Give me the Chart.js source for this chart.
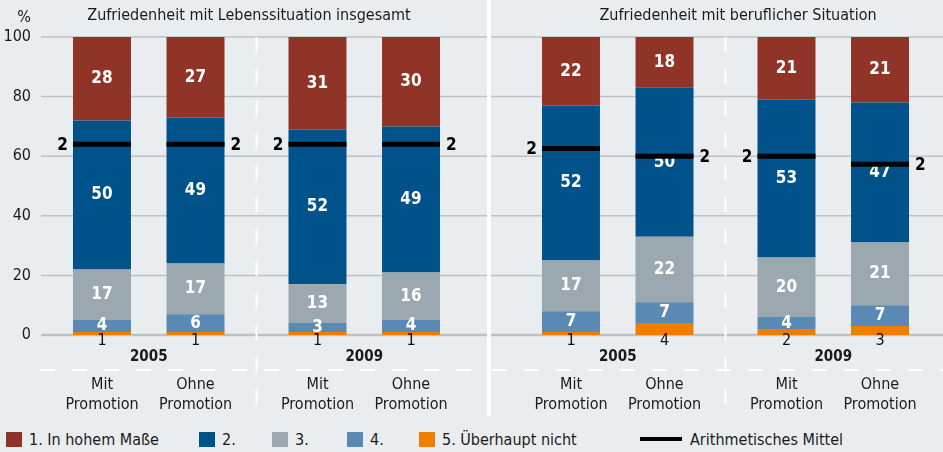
<!DOCTYPE html>
<html>
<head>
<meta charset="utf-8">
<script src="https://cdn.jsdelivr.net/npm/chart.js@4.4.1/dist/chart.umd.min.js"></script>
<style>
  body { margin: 0; background: #eaedf0; }
  #wrap { position: relative; width: 943px; height: 452px; background: #eaedf0; overflow: hidden;
          font-family: 'DejaVu Sans Condensed', sans-serif; color: #1a1a1a; }
  #c1 { position: absolute; left: 0; top: 0; }
  #c2 { position: absolute; left: 489px; top: 0; }
  #sep { position: absolute; left: 487px; top: 0; width: 4px; height: 416px; background: #fff; }
  .lg { position: absolute; top: 431px; height: 18px; line-height: 18px; font-size: 16px; white-space: nowrap; }
  .lg i { display: inline-block; width: 16px; height: 15px; vertical-align: -2px; margin-right: 7px; }
  .lg b { display: inline-block; width: 42px; height: 4px; background: #000; vertical-align: 4px; margin-right: 8px; }
</style>
</head>
<body>
<div id="wrap">
  <canvas id="c1" width="489" height="425"></canvas>
  <canvas id="c2" width="454" height="425"></canvas>
  <div id="sep"></div>
  <div id="legend"></div>
</div>
<script>
// Kategorien und Texte
const years = ['2005', '2009'];
const groups = [['Mit', 'Promotion'], ['Ohne', 'Promotion']];
const panelTitles = ['Zufriedenheit mit Lebenssituation insgesamt', 'Zufriedenheit mit beruflicher Situation'];
const levelNames = ['1. In hohem Maße', '2.', '3.', '4.', '5. Überhaupt nicht'];
const meanName = 'Arithmetisches Mittel';
const yTicks = [0, 20, 40, 60, 80, 100];

// Balken-Reihenfolge: Leben 2005 Mit, 2005 Ohne, 2009 Mit, 2009 Ohne, Beruf 2005 Mit, 2005 Ohne, 2009 Mit, 2009 Ohne
// Segmenthöhen (aus dem Bild gelesen)
const level1 = [28, 27, 31, 30, 23, 17, 21, 22];
const level2 = [50, 49, 52, 49, 52, 50, 53, 47];
const level3 = [17, 17, 13, 16, 17, 22, 20, 21];
const level4 = [4, 6, 3, 4, 7, 7, 4, 7];
const level5 = [1, 1, 1, 1, 1, 4, 2, 3];
// gedruckte Werte
const label1 = [28, 27, 31, 30, 22, 18, 21, 21];
const label2 = [50, 49, 52, 49, 52, 50, 53, 47];
const label3 = [17, 17, 13, 16, 17, 22, 20, 21];
const label4 = [4, 6, 3, 4, 7, 7, 4, 7];
const label5 = [1, 1, 1, 1, 1, 4, 2, 3];
// Arithmetisches Mittel: Lage auf der %-Achse und Beschriftung
const meanPos = [64, 64, 64, 64, 62.6, 60, 60, 57.3];
const meanLabel = ['2', '2', '2', '2', '2', '2', '2', '2'];

const colors = ['#8f3426', '#00538a', '#9ba8b0', '#5a8ab4', '#ef7d00'];
const FONT = "'DejaVu Sans Condensed', sans-serif";

const heights = [level1, level2, level3, level4, level5];
const printed = [label1, label2, label3, label4, label5];

// Legende
const legend = document.getElementById('legend');
const lgLeft = [6, 199, 272, 347, 419];
levelNames.forEach((n, i) => {
  const d = document.createElement('div');
  d.className = 'lg';
  d.style.left = lgLeft[i] + 'px';
  d.innerHTML = '<i style="background:' + colors[i] + '"></i>' + n;
  legend.appendChild(d);
});
const m = document.createElement('div');
m.className = 'lg';
m.style.left = '640px';
m.innerHTML = '<b></b>' + meanName;
legend.appendChild(m);

function barIndex(p, c, s) { return p * 4 + c * 2 + s; }

function makeDatasets(p) {
  const ds = [];
  for (let s = 0; s < 2; s++) {
    for (let L = 4; L >= 0; L--) { // von unten (5.) nach oben (1.)
      ds.push({
        label: levelNames[L],
        level: L,
        grp: s,
        stack: 'g' + s,
        data: years.map((y, c) => heights[L][barIndex(p, c, s)]),
        printed: years.map((y, c) => printed[L][barIndex(p, c, s)]),
        backgroundColor: colors[L],
        borderWidth: 0
      });
    }
  }
  return ds;
}

const panelPlugin = {
  id: 'panel',
  beforeDatasetsDraw(chart, args, opts) {
    const ctx = chart.ctx, ys = chart.scales.y, xs = chart.scales.x, a = chart.chartArea;
    ctx.save();
    // Gitterlinien
    yTicks.forEach(v => {
      const y = ys.getPixelForValue(v);
      ctx.strokeStyle = '#bdc2c6';
      ctx.lineWidth = v === 0 ? 2.5 : 1.5;
      ctx.beginPath();
      ctx.moveTo(opts.gridFrom === 'area' ? a.left : 0, y);
      ctx.lineTo(chart.width, y);
      ctx.stroke();
    });
    // gestrichelte Trennlinien
    ctx.strokeStyle = '#ffffff';
    ctx.lineWidth = 2;
    ctx.setLineDash([15, 17]);
    const xm = (xs.getPixelForValue(0) + xs.getPixelForValue(1)) / 2;
    ctx.beginPath();
    ctx.moveTo(xm, a.top);
    ctx.lineTo(xm, 418);
    ctx.stroke();
    ctx.beginPath();
    ctx.moveTo(opts.gridFrom === 'area' ? a.left - 1 : 3, 370);
    ctx.lineTo(chart.width, 370);
    ctx.stroke();
    ctx.restore();
  },
  afterDatasetsDraw(chart, args, opts) {
    const ctx = chart.ctx, ys = chart.scales.y;
    ctx.save();
    ctx.textAlign = 'center';
    ctx.textBaseline = 'middle';
    // Werte
    chart.data.datasets.forEach((d, i) => {
      const meta = chart.getDatasetMeta(i);
      meta.data.forEach((el, j) => {
        if (d.level === 4) {
          ctx.fillStyle = '#111';
          ctx.font = '16px ' + FONT;
          ctx.fillText(d.printed[j], el.x, el.base + 6);
        } else {
          ctx.fillStyle = '#ffffff';
          ctx.font = 'bold 17px ' + FONT;
          ctx.fillText(d.printed[j], el.x, (el.y + el.base) / 2);
        }
      });
    });
    // Mittelwerte
    chart.data.datasets.forEach((d, i) => {
      if (d.level !== 0) return;
      const meta = chart.getDatasetMeta(i);
      meta.data.forEach((el, c) => {
        const b = barIndex(opts.panel, c, d.grp);
        const y = ys.getPixelForValue(meanPos[b]);
        ctx.fillStyle = '#000';
        ctx.fillRect(el.x - el.width / 2, y - 2.5, el.width, 5);
        ctx.font = 'bold 17px ' + FONT;
        if (d.grp === 0) {
          ctx.textAlign = 'right';
          ctx.fillText(meanLabel[b], el.x - el.width / 2 - 5, y + 1);
        } else {
          ctx.textAlign = 'left';
          ctx.fillText(meanLabel[b], el.x + el.width / 2 + 6, y + 1);
        }
      });
    });
    ctx.restore();
  },
  afterDraw(chart, args, opts) {
    const ctx = chart.ctx, xs = chart.scales.x;
    ctx.save();
    ctx.fillStyle = '#1a1a1a';
    ctx.textAlign = 'center';
    ctx.textBaseline = 'middle';
    // Titel
    ctx.font = '16px ' + FONT;
    ctx.fillText(panelTitles[opts.panel], opts.titleX, 16);
    if (opts.panel === 0) {
      ctx.fillText('%', 24, 18);
    }
    // Jahre
    ctx.font = 'bold 15px ' + FONT;
    years.forEach((y, c) => ctx.fillText(y, xs.getPixelForValue(c), 357));
    // Gruppen
    ctx.font = '16px ' + FONT;
    chart.data.datasets.forEach((d, i) => {
      if (d.level !== 0) return;
      chart.getDatasetMeta(i).data.forEach(el => {
        ctx.fillText(groups[d.grp][0], el.x, 385);
        ctx.fillText(groups[d.grp][1], el.x, 405);
      });
    });
    ctx.restore();
  }
};

function makeChart(id, p, padL, padR, showY, titleX) {
  return new Chart(document.getElementById(id), {
    type: 'bar',
    data: { labels: years, datasets: makeDatasets(p) },
    plugins: [panelPlugin],
    options: {
      responsive: false,
      animation: false,
      layout: { padding: { left: padL, right: padR, top: 37, bottom: 90 } },
      datasets: { bar: { categoryPercentage: 0.868, barPercentage: 0.62 } },
      plugins: {
        legend: { display: false },
        tooltip: { enabled: false },
        panel: { panel: p, gridFrom: showY ? 'area' : 'edge', titleX: titleX }
      },
      scales: {
        x: { display: false, stacked: true },
        y: {
          stacked: true, min: 0, max: 100, display: showY,
          grid: { display: false, drawTicks: false }, border: { display: false },
          ticks: { stepSize: 20, padding: 10, color: '#1a1a1a', font: { family: FONT, size: 16 } },
          afterFit: s => { if (showY) s.width = 41; }
        }
      }
    }
  });
}

makeChart('c1', 0, 0, 17, true, 249);
makeChart('c2', 1, 21, 2, false, 249);
</script>
</body>
</html>
